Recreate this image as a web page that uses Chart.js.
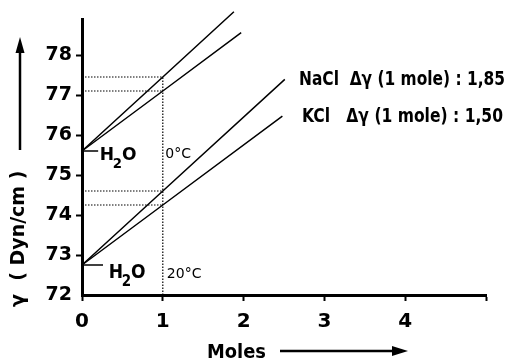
<!DOCTYPE html>
<html><head><meta charset="utf-8">
<script src="https://cdn.jsdelivr.net/npm/chart.js@4"></script>
<style>html,body{margin:0;padding:0;background:#fff}canvas{display:block}</style>
</head><body>
<canvas id="c" width="518" height="360" style="width:518px;height:360px"></canvas>
<script>
// ---- data ----
const xTickValues = [0, 1, 2, 3, 4, 5];
const xTickLabels = ['0', '1', '2', '3', '4', ''];
const yTickValues = [72, 73, 74, 75, 76, 77, 78];
const naCl0x = [0, 1, 1.88];   const naCl0y = [75.6, 77.45, 79.08];
const kCl0x  = [0, 1, 1.97];   const kCl0y  = [75.6, 77.1, 78.56];
const naCl20x = [0, 1, 2.51];  const naCl20y = [72.75, 74.6, 77.39];
const kCl20x  = [0, 1, 2.48];  const kCl20y  = [72.75, 74.25, 76.47];
const oneMole = 1;
const atOneMole = [77.45, 77.1, 74.6, 74.25];
const waterVal = [75.6, 72.75];
const waterTickEnd = [0.2, 0.26];
const labels = {
  nacl: 'NaCl  Δγ (1 mole) : 1,85',
  kcl: 'KCl   Δγ (1 mole) : 1,50',
  t0: '0°C', t20: '20°C',
  yTitle: 'γ  ( Dyn/cm )', xTitle: 'Moles'
};

const FONT = '"DejaVu Sans", sans-serif';
const pts = (xs, ys) => xs.map((x, i) => ({x, y: ys[i]}));
const solid = (data) => ({data, borderColor: '#000', borderWidth: 1.5, pointRadius: 0, fill: false, tension: 0, clip: false});
const dotted = (data) => ({data, borderColor: '#000', borderWidth: 1.2, borderDash: [1.5, 1.5], pointRadius: 0, fill: false, tension: 0});

const datasets = [
  solid(pts(naCl0x, naCl0y)), solid(pts(kCl0x, kCl0y)),
  solid(pts(naCl20x, naCl20y)), solid(pts(kCl20x, kCl20y)),
  solid(pts([0, waterTickEnd[0]], [waterVal[0], waterVal[0]])),
  solid(pts([0, waterTickEnd[1]], [waterVal[1], waterVal[1]])),
  ...atOneMole.map(v => dotted(pts([0, oneMole], [v, v]))),
  dotted(pts([oneMole, oneMole], [72, Math.max(...atOneMole)]))
];

// draw text horizontally condensed so that it spans `w` pixels
function fitText(ctx, txt, px, py, w) {
  const m = ctx.measureText(txt).width;
  const s = Math.min(1, w / m);
  ctx.save();
  ctx.translate(px, py);
  ctx.scale(s, 1);
  ctx.textAlign = 'left';
  ctx.fillText(txt, 0, 0);
  ctx.restore();
}

const decor = {
  id: 'decor',
  afterDraw(chart) {
    const {ctx, scales: {x, y}} = chart;
    ctx.save();
    ctx.fillStyle = '#000'; ctx.strokeStyle = '#000';
    ctx.textBaseline = 'alphabetic'; ctx.textAlign = 'left';
    // H2O labels
    const h2o = (px, py, size, sx) => {
      ctx.save();
      ctx.translate(px, py); ctx.scale(sx, 1);
      ctx.font = 'bold ' + size + 'px ' + FONT;
      ctx.fillText('H', 0, 0);
      const w = ctx.measureText('H').width;
      ctx.font = 'bold ' + Math.round(size * 0.78) + 'px ' + FONT;
      ctx.fillText('2', w - 1.5, 8);
      const w2 = ctx.measureText('2').width;
      ctx.font = 'bold ' + size + 'px ' + FONT;
      ctx.fillText('O', w + w2 - 1.5, 0);
      ctx.restore();
    };
    h2o(x.getPixelForValue(0.22), y.getPixelForValue(waterVal[0]) + 9, 18, 0.95);
    h2o(x.getPixelForValue(0.33), y.getPixelForValue(waterVal[1]) + 13, 19, 0.9);
    ctx.font = '14px ' + FONT;
    fitText(ctx, labels.t0, x.getPixelForValue(1.03), y.getPixelForValue(waterVal[0]) + 7, 26);
    fitText(ctx, labels.t20, x.getPixelForValue(1.05), y.getPixelForValue(waterVal[1]) + 13, 37);
    // annotation texts
    ctx.font = 'bold 19px ' + FONT;
    fitText(ctx, labels.nacl, 299, 85, 206);
    fitText(ctx, labels.kcl, 302, 122, 201);
    // y title + arrow
    ctx.save();
    ctx.translate(24, 307);
    ctx.rotate(-Math.PI / 2);
    ctx.font = 'bold 19px ' + FONT;
    fitText(ctx, labels.yTitle, 0, 0, 154);
    ctx.restore();
    ctx.lineWidth = 2.5;
    ctx.beginPath(); ctx.moveTo(20, 150); ctx.lineTo(20, 50); ctx.stroke();
    ctx.beginPath(); ctx.moveTo(20, 37); ctx.lineTo(15.5, 53); ctx.lineTo(24.5, 53); ctx.closePath(); ctx.fill();
    // x title + arrow
    ctx.font = 'bold 19px ' + FONT;
    fitText(ctx, labels.xTitle, 207, 358, 59);
    ctx.lineWidth = 2.5;
    ctx.beginPath(); ctx.moveTo(280, 351); ctx.lineTo(395, 351); ctx.stroke();
    ctx.beginPath(); ctx.moveTo(408, 351); ctx.lineTo(392, 346); ctx.lineTo(392, 356); ctx.closePath(); ctx.fill();
    ctx.restore();
  }
};

new Chart(document.getElementById('c'), {
  type: 'line',
  data: {datasets},
  options: {
    responsive: false, animation: false, devicePixelRatio: 1,
    layout: {padding: {top: 19, right: 32, left: 0, bottom: 0}},
    plugins: {legend: {display: false}, tooltip: {enabled: false}},
    scales: {
      x: {
        type: 'linear', min: 0, max: 5,
        afterBuildTicks: s => { s.ticks = xTickValues.map(v => ({value: v})); },
        afterFit: s => { s.height = 65; },
        ticks: {color: '#000', font: {family: FONT, size: 20, weight: 'bold'}, padding: 9,
          callback: (v) => xTickLabels[xTickValues.indexOf(v)] ?? '' },
        grid: {drawOnChartArea: false, tickLength: 6, tickWidth: 2, color: '#000'},
        border: {display: true, color: '#000', width: 3}
      },
      y: {
        type: 'linear', min: 72, max: 78.9,
        afterBuildTicks: s => { s.ticks = yTickValues.map(v => ({value: v})); },
        afterFit: s => { s.width = 82; },
        ticks: {color: '#000', font: {family: FONT, size: 19, weight: 'bold'}, padding: 4,
          callback: v => String(v)},
        grid: {drawOnChartArea: false, tickLength: 6, tickWidth: 2,
          color: c => (c.tick && c.tick.value === 72) ? 'rgba(0,0,0,0)' : '#000'},
        border: {display: true, color: '#000', width: 3}
      }
    }
  },
  plugins: [decor]
});
</script>
</body></html>
